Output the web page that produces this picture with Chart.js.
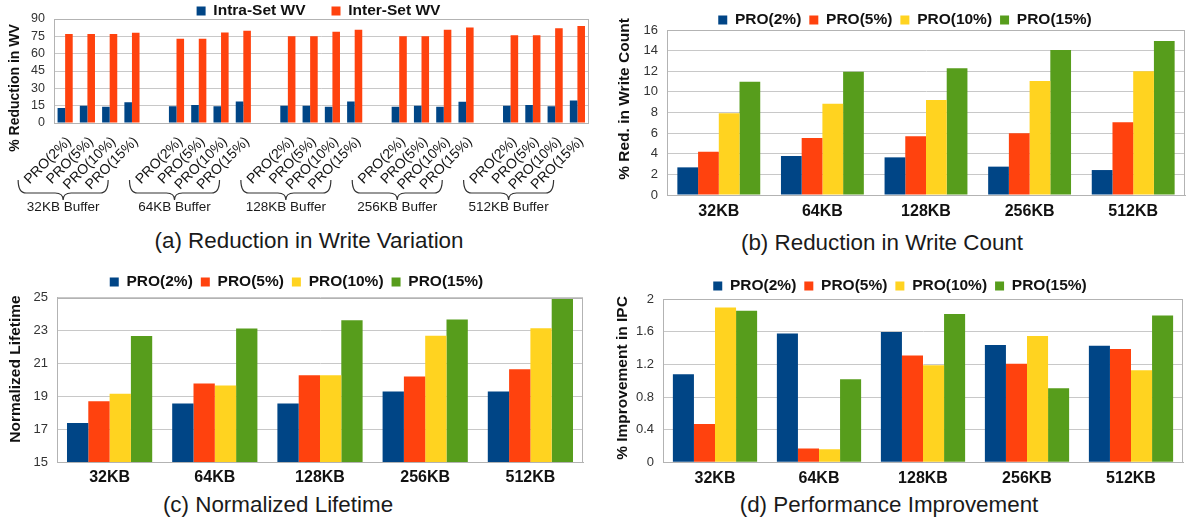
<!DOCTYPE html>
<html><head><meta charset="utf-8">
<script src="https://cdn.jsdelivr.net/npm/chart.js@4.4.1/dist/chart.umd.min.js"></script>
<style>
html,body{margin:0;padding:0;background:#fff;width:1187px;height:522px;overflow:hidden;position:relative;font-family:"Liberation Sans",Arial,sans-serif;}
.box{position:absolute;}
.box canvas{display:block;}
.cap{position:absolute;font-size:22.4px;color:#1a1a1a;white-space:nowrap;transform:translate(-50%,-50%);font-family:"Liberation Sans",Arial,sans-serif;}
</style></head><body>
<div class="box" id="boxA"><canvas></canvas></div>
<div class="box" id="boxB"><canvas></canvas></div>
<div class="box" id="boxC"><canvas></canvas></div>
<div class="box" id="boxD"><canvas></canvas></div>
<div class="cap" style="left:309px;top:241px">(a) Reduction in Write Variation</div>
<div class="cap" style="left:882px;top:243px">(b) Reduction in Write Count</div>
<div class="cap" style="left:278px;top:505px">(c) Normalized Lifetime</div>
<div class="cap" style="left:889px;top:505px">(d) Performance Improvement</div>
<script>
// ---------- DATA ----------
const wvSeries = ['Intra-Set WV', 'Inter-Set WV'];
const proLabels = ['PRO(2%)', 'PRO(5%)', 'PRO(10%)', 'PRO(15%)'];
const bufferGroups = ['32KB Buffer', '64KB Buffer', '128KB Buffer', '256KB Buffer', '512KB Buffer'];
const intraWV = [13, 15, 14, 18,  14.4, 15.6, 14.4, 18.7,  15, 15, 14, 18.7,  14, 15, 14, 18.4,  15, 15.6, 14.4, 19.5];
const interWV = [77, 77, 77, 78,  73, 73, 78.4, 79.8,  75, 75, 79, 80.7,  75, 75, 80.7, 82.7,  76, 76, 81.9, 83.9];
const yTicksA = [0, 15, 30, 45, 60, 75, 90];

const bufferSizes = ['32KB', '64KB', '128KB', '256KB', '512KB'];
const proSeries = ['PRO(2%)', 'PRO(5%)', 'PRO(10%)', 'PRO(15%)'];

const wcPro2  = [2.68, 3.78, 3.65, 2.75, 2.42];
const wcPro5  = [4.20, 5.53, 5.69, 5.98, 7.05];
const wcPro10 = [7.92, 8.86, 9.21, 11.05, 11.99];
const wcPro15 = [10.99, 11.96, 12.28, 14.06, 14.93];
const yTicksB = [0, 2, 4, 6, 8, 10, 12, 14, 16];

const ltPro2  = [17.37, 18.56, 18.56, 19.29, 19.29];
const ltPro5  = [18.70, 19.78, 20.28, 20.20, 20.65];
const ltPro10 = [19.15, 19.66, 20.28, 22.69, 23.14];
const ltPro15 = [22.67, 23.12, 23.62, 23.68, 24.92];
const yTicksC = [15, 17, 19, 21, 23, 25];

const ipcPro2  = [1.08, 1.58, 1.60, 1.44, 1.43];
const ipcPro5  = [0.47, 0.17, 1.31, 1.21, 1.39];
const ipcPro10 = [1.90, 0.16, 1.19, 1.55, 1.13];
const ipcPro15 = [1.86, 1.02, 1.82, 0.91, 1.80];
const yTicksD = [0, 0.4, 0.8, 1.2, 1.6, 2];

const palette = ['#004586', '#ff420e', '#ffd320', '#579d1c'];

// ---------- HELPERS ----------
const FONT = '"Liberation Sans", Arial, sans-serif';
const LFS = 15.5;

function makeChart(c) {
  const box = document.getElementById(c.id);
  box.style.left = c.cx + 'px'; box.style.top = c.cy + 'px';
  box.style.width = c.w + 'px'; box.style.height = c.h + 'px';
  const canvas = box.querySelector('canvas');
  canvas.width = c.w; canvas.height = c.h;
  canvas.style.width = c.w + 'px'; canvas.style.height = c.h + 'px';
  const a = c.area;
  const pt = c.legendY - c.cy - c.legendPad - LFS / 2;
  const pr = c.w - (a.R - c.cx);
  const pl = 0;
  const legendH = a.T - c.cy - pt;
  const yW = a.L - c.cx - pl;
  const xH = c.cy + c.h - a.B;
  const ticks = c.yTicks;

  const legendFit = {
    id: 'legendFit' + c.id,
    beforeInit(chart) {
      const leg = chart.legend;
      const orig = leg.fit;
      leg.fit = function () { orig.call(this); this.height = legendH; };
    },
    afterLayout(chart) {
      const leg = chart.legend;
      const cur = (leg.left + leg.right) / 2;
      const dx = (c.legendX - c.cx) - cur;
      leg.left += dx; leg.right += dx;
    }
  };
  const frame = {
    id: 'frame' + c.id,
    beforeDatasetsDraw(chart) {
      const ar = chart.chartArea, ctx = chart.ctx;
      ctx.save();
      ctx.strokeStyle = '#b3b3b3'; ctx.lineWidth = 1;
      ctx.strokeRect(Math.round(ar.left) + 0.5, Math.round(ar.top) + 0.5,
        Math.round(ar.right - ar.left) - 1, Math.round(ar.bottom - ar.top));
      ctx.restore();
    }
  };
  const yTitle = {
    id: 'ytitle' + c.id,
    afterDraw(chart) {
      const ctx = chart.ctx;
      ctx.save();
      ctx.translate(c.yTitle.x - c.cx, c.yTitle.y - c.cy);
      ctx.rotate(-Math.PI / 2);
      ctx.font = 'bold ' + c.yTitle.size + 'px ' + FONT;
      ctx.fillStyle = '#111';
      ctx.textAlign = 'center'; ctx.textBaseline = 'middle';
      ctx.fillText(c.yTitle.text, 0, 0);
      ctx.restore();
    }
  };
  const plugins = [legendFit, frame, yTitle].concat(c.extraPlugins || []);

  return new Chart(canvas, {
    type: 'bar',
    data: { labels: c.labels, datasets: c.datasets },
    options: {
      responsive: false,
      animation: false,
      devicePixelRatio: 1,
      layout: { padding: { left: pl, right: pr, top: pt, bottom: 0 } },
      datasets: { bar: { categoryPercentage: c.catPct, barPercentage: 1.0, borderWidth: 0 } },
      plugins: {
        tooltip: { enabled: false },
        legend: {
          position: 'top',
          labels: {
            boxWidth: 9, boxHeight: 9, padding: c.legendPad,
            color: '#111',
            font: { family: FONT, size: LFS, weight: 'bold' }
          }
        }
      },
      scales: {
        x: {
          grid: { display: false, drawTicks: false },
          border: { display: true, color: '#b3b3b3' },
          ticks: Object.assign({
            autoSkip: false, color: '#111', padding: c.xPad,
            font: { family: FONT, size: 16, weight: 'bold' }
          }, c.xTicks || {}),
          afterFit(s) { s.height = xH; }
        },
        y: {
          min: ticks[0], max: ticks[ticks.length - 1],
          grid: { color: '#c8c8c8', lineWidth: 1, drawTicks: false },
          border: { display: true, color: '#b3b3b3' },
          ticks: {
            autoSkip: false,
            stepSize: ticks[1] - ticks[0], color: '#333', padding: 9,
            font: { family: FONT, size: c.yFont || 13 },
            callback: v => {
              const hit = ticks.find(t => Math.abs(t - v) < 1e-6);
              return hit === undefined ? '' : String(hit);
            }
          },
          afterFit(s) { s.width = yW; }
        }
      }
    },
    plugins
  });
}

function proDatasets(arrs) {
  return proSeries.map((name, i) => ({
    label: name, data: arrs[i], backgroundColor: palette[i], borderWidth: 0
  }));
}

// ---------- CHART A ----------
const xLabelsA = [], intraA = [], interA = [];
bufferGroups.forEach((g, gi) => {
  if (gi) { xLabelsA.push(''); intraA.push(null); interA.push(null); }
  proLabels.forEach((p, pi) => {
    xLabelsA.push(p);
    intraA.push(intraWV[gi * 4 + pi]);
    interA.push(interWV[gi * 4 + pi]);
  });
});

const bracePlugin = {
  id: 'braces',
  afterDraw(chart) {
    const ctx = chart.ctx, xs = chart.scales.x, b = chart.chartArea.bottom;
    ctx.save();
    ctx.strokeStyle = '#333'; ctx.lineWidth = 1.2;
    ctx.fillStyle = '#1a1a1a';
    ctx.font = '13.5px ' + FONT;
    ctx.textAlign = 'center'; ctx.textBaseline = 'middle';
    bufferGroups.forEach((g, gi) => {
      const first = xs.getPixelForValue(gi * 5);
      const mid = first - 2, x1 = mid - 45, x2 = mid + 45;
      const yT = b + 57, yM = b + 70, yB = b + 77, r = 8;
      ctx.beginPath();
      ctx.moveTo(x1, yT);
      ctx.quadraticCurveTo(x1, yM, x1 + r, yM);
      ctx.lineTo(mid - r, yM);
      ctx.quadraticCurveTo(mid, yM, mid, yB);
      ctx.quadraticCurveTo(mid, yM, mid + r, yM);
      ctx.lineTo(x2 - r, yM);
      ctx.quadraticCurveTo(x2, yM, x2, yT);
      ctx.stroke();
      ctx.fillText(g, mid, b + 84);
    });
    ctx.restore();
  }
};

makeChart({
  id: 'boxA', cx: 0, cy: -28, w: 600, h: 253,
  area: { L: 54, R: 590, T: 19, B: 123 },
  legendX: 318.5, legendY: 11, legendPad: 26,
  labels: xLabelsA,
  datasets: [
    { label: wvSeries[0], data: intraA, backgroundColor: palette[0] },
    { label: wvSeries[1], data: interA, backgroundColor: palette[1] }
  ],
  catPct: 0.68, xPad: 10.5,
  xTicks: { minRotation: 45, maxRotation: 45, labelOffset: 4, color: '#111', font: { family: FONT, size: 14, weight: 'normal' } },
  yTicks: yTicksA, yFont: 12.5,
  yTitle: { text: '% Reduction in WV', x: 15, y: 88, size: 14 },
  extraPlugins: [bracePlugin]
});

// ---------- CHART B ----------
makeChart({
  id: 'boxB', cx: 600, cy: 0, w: 587, h: 228,
  area: { L: 667, R: 1185, T: 30, B: 195 },
  legendX: 905, legendY: 20, legendPad: 8,
  labels: bufferSizes,
  datasets: proDatasets([wcPro2, wcPro5, wcPro10, wcPro15]),
  catPct: 0.8, xPad: 7.4,
  yTicks: yTicksB,
  yTitle: { text: '% Red. in Write Count', x: 625, y: 99, size: 15.5 }
});

// ---------- CHART C ----------
makeChart({
  id: 'boxC', cx: 0, cy: 262, w: 600, h: 228,
  area: { L: 57, R: 583, T: 297.7, B: 462 },
  legendX: 296.5, legendY: 282, legendPad: 8,
  labels: bufferSizes,
  datasets: proDatasets([ltPro2, ltPro5, ltPro10, ltPro15]),
  catPct: 0.81, xPad: 6.4,
  yTicks: yTicksC,
  yTitle: { text: 'Normalized Lifetime', x: 16, y: 369, size: 15.5 }
});

// ---------- CHART D ----------
makeChart({
  id: 'boxD', cx: 600, cy: 266, w: 587, h: 224,
  area: { L: 663, R: 1183, T: 299.3, B: 462.3 },
  legendX: 900, legendY: 286, legendPad: 8,
  labels: bufferSizes,
  datasets: proDatasets([ipcPro2, ipcPro5, ipcPro10, ipcPro15]),
  catPct: 0.81, xPad: 6.4,
  yTicks: yTicksD,
  yTitle: { text: '% Improvement in IPC', x: 623, y: 378, size: 15.5 }
});
</script>
</body></html>
